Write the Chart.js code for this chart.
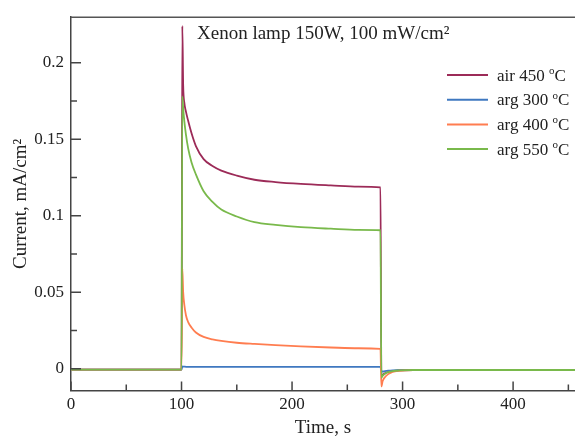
<!DOCTYPE html>
<html>
<head>
<meta charset="utf-8">
<script src="https://cdn.jsdelivr.net/npm/chart.js@4/dist/chart.umd.min.js"></script>
<style>
  html, body { margin: 0; padding: 0; background: #fff; }
  #wrap { width: 575px; height: 438px; }
</style>
</head>
<body>
<div id="wrap"><canvas id="chart" width="575" height="438"></canvas></div>
<script>
// time axis (s), shared by all four runs
const time = [0, 50, 100, 100.7, 101.5, 102.5, 104, 106, 109, 113, 120, 128, 136, 150, 166, 185, 208, 235, 260, 280,
  280.8, 282, 284, 287, 291, 297, 310, 340, 400, 456];

const air450 = [-0.0005, -0.0005, -0.0005, 0.224, 0.185, 0.174, 0.168, 0.162, 0.154, 0.1455, 0.137, 0.1325, 0.1295, 0.1262,
  0.1235, 0.122, 0.1208, 0.1198, 0.119, 0.1185,
  -0.005, -0.004, -0.003, -0.002, -0.0015, -0.001, -0.0008, -0.0008, -0.0008, -0.0008];
const arg300 = [-0.0005, -0.0005, -0.0005, 0.0015, 0.0014, 0.0014, 0.0013, 0.0013, 0.0013, 0.0013, 0.0013, 0.0013, 0.0013,
  0.0013, 0.0013, 0.0013, 0.0013, 0.0013, 0.0012, 0.0012,
  -0.0015, -0.0018, -0.0015, -0.0012, -0.001, -0.0009, -0.0008, -0.0008, -0.0008, -0.0008];
const arg400 = [-0.0005, -0.0005, -0.0005, 0.0655, 0.05, 0.042, 0.035, 0.0305, 0.027, 0.0237, 0.0208, 0.0192, 0.0182,
  0.017, 0.0162, 0.0154, 0.0146, 0.0139, 0.0134, 0.013,
  -0.0115, -0.008, -0.0055, -0.0035, -0.002, -0.0013, -0.0009, -0.0008, -0.0008, -0.0008];
const arg550 = [-0.0005, -0.0005, -0.0005, 0.178, 0.17, 0.162, 0.153, 0.144, 0.135, 0.127, 0.116, 0.109, 0.104, 0.0995,
  0.0958, 0.094, 0.0925, 0.0915, 0.0908, 0.0905,
  -0.006, -0.0045, -0.0032, -0.0022, -0.0015, -0.0011, -0.0008, -0.0008, -0.0008, -0.0008];

const seriesLabels = ["air 450 ºC", "arg 300 ºC", "arg 400 ºC", "arg 550 ºC"];
const seriesColors = ["#9c2b58", "#3f78c0", "#ff7d50", "#79b94b"];

const xTicks = [0, 100, 200, 300, 400];
const xMinor = [50, 150, 250, 350, 450];
const yTicks = [0, 0.05, 0.1, 0.15, 0.2];
const yMinor = [0.025, 0.075, 0.125, 0.175];

const note = "Xenon lamp 150W, 100 mW/cm²";
const FONT = "'Liberation Serif', 'Times New Roman', serif";

const allValues = [air450, arg300, arg400, arg550];

// draw text, putting the "º" as a small raised "o"
function drawSup(ctx, text, x, y, size) {
  const parts = text.split("º");
  ctx.font = size + "px " + FONT;
  ctx.fillText(parts[0], x, y);
  x += ctx.measureText(parts[0]).width;
  if (parts.length > 1) {
    ctx.font = Math.round(size * 0.62) + "px " + FONT;
    ctx.fillText("o", x, y - size * 0.38);
    x += ctx.measureText("o").width;
    ctx.font = size + "px " + FONT;
    ctx.fillText(parts[1], x, y);
  }
}

const extras = {
  id: "extras",
  afterDraw(chart) {
    const ctx = chart.ctx;
    const area = chart.chartArea;
    const xs = chart.scales.x, ys = chart.scales.y;
    ctx.save();
    ctx.strokeStyle = "#555";
    ctx.lineWidth = 1.5;
    // top frame line
    ctx.beginPath();
    ctx.moveTo(area.left, area.top);
    ctx.lineTo(area.right, area.top);
    ctx.stroke();
    // inward ticks
    ctx.strokeStyle = "#444";
    ctx.beginPath();
    xTicks.forEach(v => { const p = xs.getPixelForValue(v); ctx.moveTo(p, area.bottom); ctx.lineTo(p, area.bottom - 9); });
    xMinor.forEach(v => { const p = xs.getPixelForValue(v); ctx.moveTo(p, area.bottom); ctx.lineTo(p, area.bottom - 6); });
    yTicks.forEach(v => { const p = ys.getPixelForValue(v); ctx.moveTo(area.left, p); ctx.lineTo(area.left + 10, p); });
    yMinor.forEach(v => { const p = ys.getPixelForValue(v); ctx.moveTo(area.left, p); ctx.lineTo(area.left + 6, p); });
    ctx.stroke();

    // legend
    ctx.fillStyle = "#222";
    ctx.textBaseline = "alphabetic";
    seriesLabels.forEach((lab, i) => {
      const y = 75 + i * 24.7;
      ctx.strokeStyle = seriesColors[i];
      ctx.lineWidth = 2;
      ctx.beginPath();
      ctx.moveTo(447, y);
      ctx.lineTo(488, y);
      ctx.stroke();
      drawSup(ctx, lab, 497, y + 5.5, 17);
    });

    // lamp note
    ctx.font = "19px " + FONT;
    ctx.fillText(note, 197, 39);
    ctx.restore();
  }
};

new Chart(document.getElementById("chart"), {
  type: "line",
  data: {
    datasets: seriesLabels.map((lab, i) => ({
      label: lab,
      data: time.map((t, k) => ({ x: t, y: allValues[i][k] })),
      borderColor: seriesColors[i],
      borderWidth: 1.8,
      pointRadius: 0,
      cubicInterpolationMode: "monotone",
      fill: false,
      order: 4 - i
    }))
  },
  options: {
    responsive: false,
    animation: false,
    devicePixelRatio: 1,
    layout: { padding: { top: 8.5, right: 0, left: 0, bottom: 0 } },
    plugins: { legend: { display: false }, tooltip: { enabled: false } },
    scales: {
      x: {
        type: "linear",
        min: 0,
        max: 456,
        afterBuildTicks: s => { s.ticks = xTicks.map(v => ({ value: v })); },
        afterFit: s => { s.height = 47.5; },
        grid: { display: false, drawTicks: false },
        border: { display: true, color: "#444", width: 1.5 },
        ticks: { padding: 4, color: "#222", font: { family: FONT, size: 17 }, maxRotation: 0 },
        title: { display: true, text: "Time, s", color: "#222", font: { family: FONT, size: 19, lineHeight: 1 }, padding: 0 }
      },
      y: {
        type: "linear",
        min: -0.0142,
        max: 0.2297,
        afterBuildTicks: s => { s.ticks = yTicks.map(v => ({ value: v })); },
        afterFit: s => { s.width = 71; },
        grid: { display: false, drawTicks: false },
        border: { display: true, color: "#444", width: 1.5 },
        ticks: { padding: 7, color: "#222", font: { family: FONT, size: 17 }, callback: v => String(v) },
        title: { display: true, text: "Current, mA/cm²", color: "#222", font: { family: FONT, size: 19, lineHeight: 1.2 }, padding: { top: 10 } }
      }
    }
  },
  plugins: [extras]
});
</script>
</body>
</html>
